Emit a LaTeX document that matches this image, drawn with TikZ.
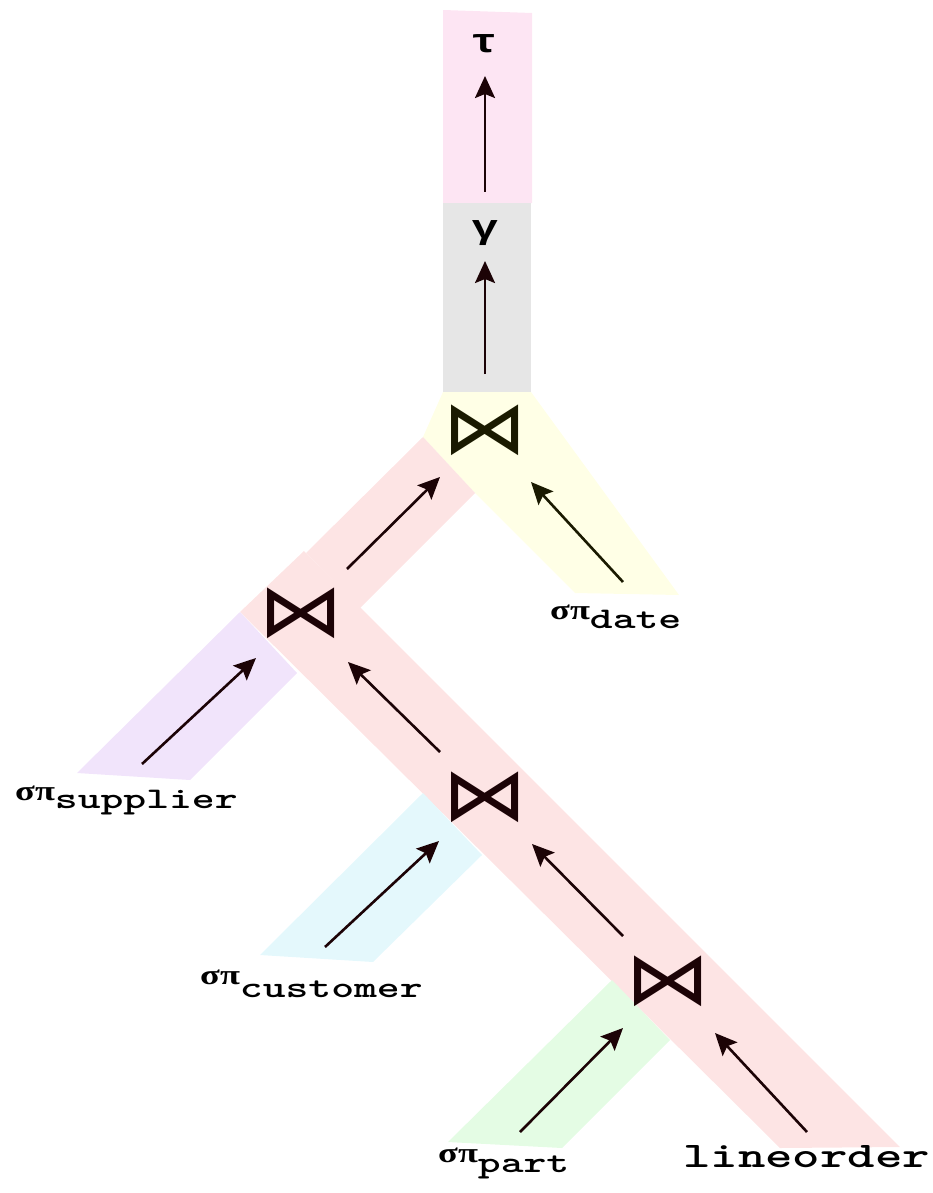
\documentclass[tikz,border=0pt]{standalone}
\usepackage{fontspec}
\usetikzlibrary{arrows.meta}

\newfontfamily\codefont{lmmonolt10-bold}[Extension=.otf, FakeStretch=1.45]
\newfontfamily\greekfont{Liberation Mono}[FakeStretch=1.33]
\newfontfamily\sigmafont{Liberation Serif}[FakeStretch=1.3]
\newfontfamily\joinfont{DejaVu Sans}[FakeStretch=1.15]

\definecolor{sortfill}{HTML}{FDE5F3}
\definecolor{groupfill}{HTML}{E6E6E6}
\definecolor{datefill}{HTML}{FFFFE6}
\definecolor{factfill}{HTML}{FDE4E4}
\definecolor{suppfill}{HTML}{F1E4FB}
\definecolor{custfill}{HTML}{E4F8FC}
\definecolor{partfill}{HTML}{E4FCE4}
\definecolor{factink}{HTML}{1C0306}
\definecolor{dateink}{HTML}{1A1A00}

% selection + projection on a dimension table, #1 = drop of the table name
\newcommand{\selproj}[2][10pt]{{\sigmafont\bfseries\fontsize{28}{28}\selectfont σπ}\raisebox{-#1}{\codefont\fontsize{30}{30}\selectfont #2}}

\tikzset{
  op/.style={font=\joinfont\fontsize{74}{74}\selectfont, inner sep=0pt, text=factink},
  greek/.style={font=\greekfont\bfseries\fontsize{34}{34}\selectfont, inner sep=0pt},
  rel/.style={font=\codefont\fontsize{36}{36}\selectfont, inner sep=0pt},
  flow/.style={-{Stealth[length=22pt,width=20pt,inset=4pt]}, line width=2.6pt, draw=factink},
}

\begin{document}
\begin{tikzpicture}[x=1pt,y=-1pt]
  \useasboundingbox (0,0) rectangle (932,1193);

  % pipelines
  \fill[sortfill] (443,10) -- (532,13) -- (532,203) -- (443,203) -- cycle;
  \fill[groupfill] (443,203) -- (531,203) -- (531,392) -- (443,392) -- cycle;
  \fill[datefill] (443,392) -- (531,392) -- (679,595) -- (575,593) -- (475,493) -- (423,437) -- cycle;
  \fill[factfill] (306,553) -- (423,437) -- (475,493) -- (360,608) -- cycle;
  \fill[factfill] (240,612) -- (304,551) -- (900,1147) -- (780,1148) -- cycle;
  \fill[suppfill] (240,612) -- (77,773) -- (190,780) -- (297,673) -- cycle;
  \fill[custfill] (423,793) -- (260,955) -- (373,962) -- (482,855) -- cycle;
  \fill[partfill] (612,980) -- (448,1142) -- (562,1148) -- (670,1040) -- cycle;

  % operators
  \node[greek] (sort) at (484,44) {τ};
  \node[greek] (group) at (485,233) {γ};
  \node[op, text=dateink] (join1) at (485,430) {⋈};
  \node[op] (join2) at (301,613) {⋈};
  \node[op] (join3) at (485,797) {⋈};
  \node[op] (join4) at (668,981) {⋈};

  % base relations
  \node[rel, anchor=base west] (date) at (550,619) {\selproj[9pt]{date}};
  \node[rel, anchor=base west] (supplier) at (15,800) {\selproj[8pt]{supplier}};
  \node[rel, anchor=base west] (customer) at (200,984) {\selproj[13pt]{customer}};
  \node[rel, anchor=base west] (part) at (438,1162) {\selproj[10pt]{part}};
  \node[rel, anchor=base west] (lineorder) at (683,1167) {lineorder};

  % arrow ends
  \coordinate (g-tail) at (485,192);
  \coordinate (g-head) at (485,76);
  \coordinate (j1-tail) at (485,374);
  \coordinate (j1-head) at (485,261);
  \coordinate (j2-tail) at (347,569);
  \coordinate (j2-head) at (440,477);
  \coordinate (d-tail) at (623,582);
  \coordinate (d-head) at (531,482);
  \coordinate (s-tail) at (142,764);
  \coordinate (s-head) at (256,658);
  \coordinate (j3-tail) at (440,752);
  \coordinate (j3-head) at (348,662);
  \coordinate (c-tail) at (325,947);
  \coordinate (c-head) at (439,841);
  \coordinate (j4-tail) at (623,936);
  \coordinate (j4-head) at (532,844);
  \coordinate (p-tail) at (520,1132);
  \coordinate (p-head) at (623,1028);
  \coordinate (l-tail) at (807,1132);
  \coordinate (l-head) at (715,1033);

  \draw[flow] (g-tail) -- (g-head);
  \draw[flow] (j1-tail) -- (j1-head);
  \draw[flow] (j2-tail) -- (j2-head);
  \draw[flow, draw=dateink] (d-tail) -- (d-head);
  \draw[flow] (s-tail) -- (s-head);
  \draw[flow] (j3-tail) -- (j3-head);
  \draw[flow] (c-tail) -- (c-head);
  \draw[flow] (j4-tail) -- (j4-head);
  \draw[flow] (p-tail) -- (p-head);
  \draw[flow] (l-tail) -- (l-head);
\end{tikzpicture}
\end{document}
